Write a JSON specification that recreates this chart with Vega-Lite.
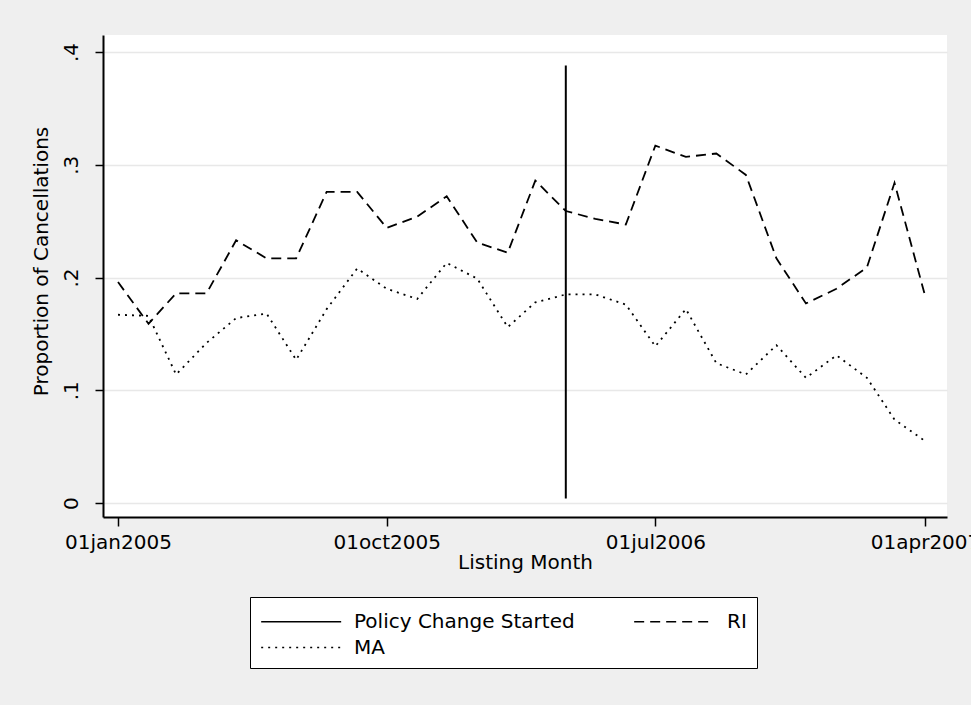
{
  "$schema": "https://vega.github.io/schema/vega-lite/v6.json",
  "autosize": {"type": "none"},
  "width": 844,
  "height": 482,
  "padding": {"left": 103, "top": 35, "right": 24, "bottom": 188},
  "background": "#efefef",
  "config": {
    "font": "DejaVu Sans",
    "view": {"fill": "white", "stroke": null},
    "axis": {
      "domainColor": "black", "domainWidth": 2,
      "tickColor": "black", "tickWidth": 1.5, "tickSize": 8,
      "labelFont": "DejaVu Sans", "labelFontSize": 20, "labelColor": "black",
      "titleFont": "DejaVu Sans", "titleFontSize": 20, "titleFontWeight": "normal", "titleColor": "black"
    },
    "legend": {
      "orient": "none", "legendX": 147, "legendY": 562,
      "columns": 2, "direction": "horizontal",
      "strokeColor": "black", "fillColor": "white", "padding": 10,
      "symbolType": "M -1 0 L 5 0", "symbolSize": 711, "symbolStrokeColor": "black", "symbolStrokeWidth": 1.5, "symbolFillColor": "transparent",
      "labelFont": "DejaVu Sans", "labelFontSize": 20, "labelColor": "black", "labelOffset": 65, "labelLimit": 400,
      "columnPadding": 56, "rowPadding": 1
    }
  },
  "datasets": {
    "lines": [
      {"date": "2005-01-01", "series": "RI", "value": 0.196},
      {"date": "2005-02-01", "series": "RI", "value": 0.159},
      {"date": "2005-03-01", "series": "RI", "value": 0.186},
      {"date": "2005-04-01", "series": "RI", "value": 0.186},
      {"date": "2005-05-01", "series": "RI", "value": 0.233},
      {"date": "2005-06-01", "series": "RI", "value": 0.217},
      {"date": "2005-07-01", "series": "RI", "value": 0.217},
      {"date": "2005-08-01", "series": "RI", "value": 0.276},
      {"date": "2005-09-01", "series": "RI", "value": 0.276},
      {"date": "2005-10-01", "series": "RI", "value": 0.244},
      {"date": "2005-11-01", "series": "RI", "value": 0.254},
      {"date": "2005-12-01", "series": "RI", "value": 0.272},
      {"date": "2006-01-01", "series": "RI", "value": 0.231},
      {"date": "2006-02-01", "series": "RI", "value": 0.222},
      {"date": "2006-03-01", "series": "RI", "value": 0.286},
      {"date": "2006-04-01", "series": "RI", "value": 0.259},
      {"date": "2006-05-01", "series": "RI", "value": 0.252},
      {"date": "2006-06-01", "series": "RI", "value": 0.247},
      {"date": "2006-07-01", "series": "RI", "value": 0.317},
      {"date": "2006-08-01", "series": "RI", "value": 0.307},
      {"date": "2006-09-01", "series": "RI", "value": 0.310},
      {"date": "2006-10-01", "series": "RI", "value": 0.291},
      {"date": "2006-11-01", "series": "RI", "value": 0.217},
      {"date": "2006-12-01", "series": "RI", "value": 0.177},
      {"date": "2007-01-01", "series": "RI", "value": 0.190},
      {"date": "2007-02-01", "series": "RI", "value": 0.209},
      {"date": "2007-03-01", "series": "RI", "value": 0.284},
      {"date": "2007-04-01", "series": "RI", "value": 0.184},
      {"date": "2005-01-01", "series": "MA", "value": 0.167},
      {"date": "2005-02-01", "series": "MA", "value": 0.166},
      {"date": "2005-03-01", "series": "MA", "value": 0.114},
      {"date": "2005-04-01", "series": "MA", "value": 0.142},
      {"date": "2005-05-01", "series": "MA", "value": 0.164},
      {"date": "2005-06-01", "series": "MA", "value": 0.168},
      {"date": "2005-07-01", "series": "MA", "value": 0.127},
      {"date": "2005-08-01", "series": "MA", "value": 0.172},
      {"date": "2005-09-01", "series": "MA", "value": 0.208},
      {"date": "2005-10-01", "series": "MA", "value": 0.190},
      {"date": "2005-11-01", "series": "MA", "value": 0.181},
      {"date": "2005-12-01", "series": "MA", "value": 0.213},
      {"date": "2006-01-01", "series": "MA", "value": 0.199},
      {"date": "2006-02-01", "series": "MA", "value": 0.156},
      {"date": "2006-03-01", "series": "MA", "value": 0.178},
      {"date": "2006-04-01", "series": "MA", "value": 0.185},
      {"date": "2006-05-01", "series": "MA", "value": 0.185},
      {"date": "2006-06-01", "series": "MA", "value": 0.176},
      {"date": "2006-07-01", "series": "MA", "value": 0.139},
      {"date": "2006-08-01", "series": "MA", "value": 0.172},
      {"date": "2006-09-01", "series": "MA", "value": 0.124},
      {"date": "2006-10-01", "series": "MA", "value": 0.114},
      {"date": "2006-11-01", "series": "MA", "value": 0.140},
      {"date": "2006-12-01", "series": "MA", "value": 0.111},
      {"date": "2007-01-01", "series": "MA", "value": 0.131},
      {"date": "2007-02-01", "series": "MA", "value": 0.111},
      {"date": "2007-03-01", "series": "MA", "value": 0.074},
      {"date": "2007-04-01", "series": "MA", "value": 0.055}
    ],
    "policy": [
      {"date": "2006-04-01", "series": "Policy Change Started", "lo": 0.004, "hi": 0.388}
    ]
  },
  "layer": [
    {
      "data": {"name": "policy"},
      "mark": {"type": "rule", "color": "black", "strokeWidth": 2},
      "encoding": {
        "x": {"field": "date", "type": "temporal"},
        "y": {"field": "lo", "type": "quantitative"},
        "y2": {"field": "hi"},
        "strokeDash": {"field": "series", "type": "nominal"}
      }
    },
    {
      "data": {"name": "lines"},
      "mark": {"type": "line", "color": "black", "strokeWidth": 1.8},
      "encoding": {
        "x": {
          "field": "date", "type": "temporal",
          "scale": {"type": "utc", "domain": [{"year": 2004, "month": 12, "date": 16, "hours": 18, "utc": true}, {"year": 2007, "month": 4, "date": 23, "hours": 8, "utc": true}], "nice": false},
          "axis": {
            "title": "Listing Month",
            "values": [{"year": 2005, "month": 1, "date": 1, "utc": true}, {"year": 2005, "month": 10, "date": 1, "utc": true}, {"year": 2006, "month": 7, "date": 1, "utc": true}, {"year": 2007, "month": 4, "date": 1, "utc": true}],
            "labelExpr": "lower(utcFormat(datum.value, '%d%b%Y'))",
            "grid": false, "labelFlush": false, "labelOverlap": false, "labelBound": false,
            "tickSize": 9, "labelPadding": 6, "titlePadding": 0
          }
        },
        "y": {
          "field": "value", "type": "quantitative",
          "scale": {"domain": [-0.0124, 0.4151], "nice": false, "zero": false},
          "axis": {
            "title": "Proportion of Cancellations",
            "values": [0, 0.1, 0.2, 0.3, 0.4],
            "labelExpr": "datum.value == 0 ? '0' : replace(format(datum.value, '.1f'), '0.', '.')",
            "labelAngle": -90, "labelAlign": "center", "labelBaseline": "bottom", "labelPadding": 14,
            "grid": true, "gridColor": "#e8e8e8", "gridWidth": 1.5,
            "titlePadding": 10, "titleY": 226
          }
        },
        "strokeDash": {
          "field": "series", "type": "nominal",
          "scale": {"domain": ["Policy Change Started", "RI", "MA"], "range": [[1, 0], [10, 6], [2, 5]]},
          "legend": {"title": null}
        },
        "detail": {"field": "series"}
      }
    }
  ]
}
